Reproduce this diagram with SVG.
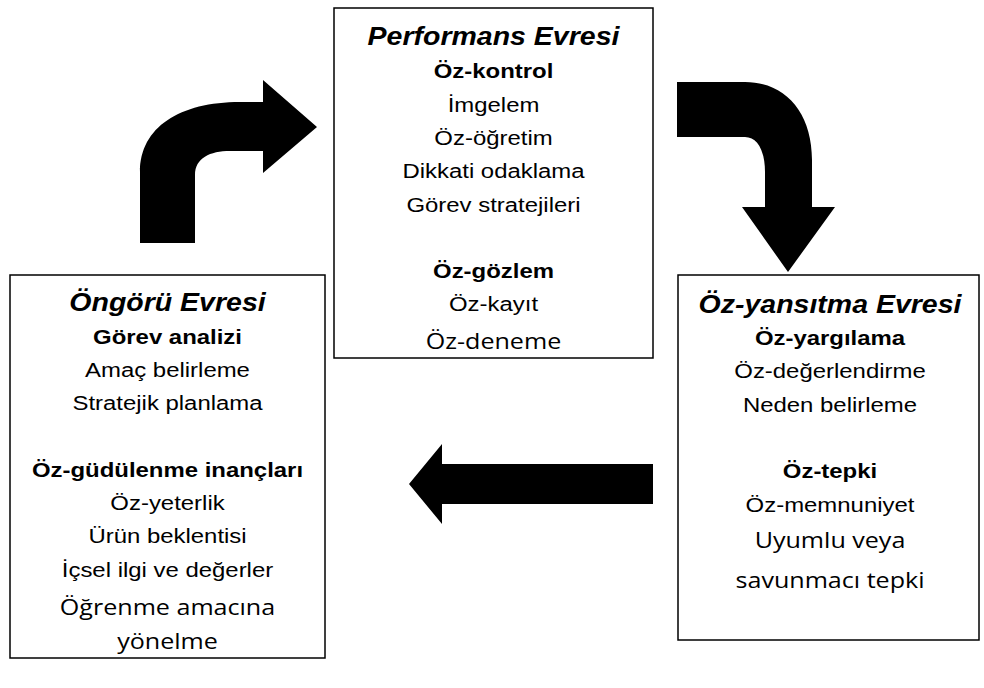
<svg xmlns="http://www.w3.org/2000/svg" width="984" height="688" viewBox="0 0 984 688">
<style>
.box{fill:#fff;stroke:#000;stroke-width:1.5}
.arrow{fill:#000;stroke:none}
text{font-family:"Liberation Sans",Arial,sans-serif;font-size:21px;fill:#000;text-anchor:middle}
.title{font-size:25px;font-weight:bold;font-style:italic}
.head{font-weight:bold}
.cal{font-family:"Open Sans","Noto Sans",sans-serif;font-size:22px}
</style>
<rect width="984" height="688" fill="#fff"/>
<g id="connectors">
<path class="arrow" d="M140,243 L140,172 C140,127 180,102 240,102 L263,102 L263,80 L317,127 L263,173 L263,151 L230,151 C210,151 195,158 195,175 L195,243 Z"/>
<path class="arrow" d="M677,82 L745,82 C785,82 812,112 812,160 L812,207 L835,207 L788,272 L742,207 L765,207 L765,172 C765,150 757,137 745,137 L677,137 Z"/>
<path class="arrow" d="M653,464 L442,464 L442,444 L409,484 L442,524 L442,504 L653,504 Z"/>
</g>
<g id="performans">
<rect class="box" x="334" y="8" width="319" height="350"/>
<g transform="translate(493.5,0) scale(1.14,1)">
<text class="title" x="0" y="45">Performans Evresi</text>
<text class="head" x="0" y="78">Öz-kontrol</text>
<text x="0" y="112">İmgelem</text>
<text x="0" y="145">Öz-öğretim</text>
<text x="0" y="178">Dikkati odaklama</text>
<text x="0" y="212">Görev stratejileri</text>
<text class="head" x="0" y="278">Öz-gözlem</text>
<text x="0" y="311">Öz-kayıt</text>
<text class="cal" x="0" y="349">Öz-deneme</text>
</g>
</g>
<g id="ongoru">
<rect class="box" x="10" y="275" width="315" height="383"/>
<g transform="translate(167.5,0) scale(1.14,1)">
<text class="title" x="0" y="311">Öngörü Evresi</text>
<text class="head" x="0" y="344">Görev analizi</text>
<text x="0" y="377">Amaç belirleme</text>
<text x="0" y="410">Stratejik planlama</text>
<text class="head" x="0" y="477">Öz-güdülenme inançları</text>
<text x="0" y="510">Öz-yeterlik</text>
<text x="0" y="543">Ürün beklentisi</text>
<text x="0" y="577">İçsel ilgi ve değerler</text>
<text class="cal" x="0" y="615">Öğrenme amacına</text>
<text class="cal" x="0" y="649">yönelme</text>
</g>
</g>
<g id="ozyansitma">
<rect class="box" x="678" y="275" width="301" height="365"/>
<g transform="translate(830,0) scale(1.14,1)">
<text class="title" x="0" y="313">Öz-yansıtma Evresi</text>
<text class="head" x="0" y="345">Öz-yargılama</text>
<text x="0" y="378">Öz-değerlendirme</text>
<text x="0" y="412">Neden belirleme</text>
<text class="head" x="0" y="478">Öz-tepki</text>
<text x="0" y="512">Öz-memnuniyet</text>
<text class="cal" x="0" y="548">Uyumlu veya</text>
<text class="cal" x="0" y="588">savunmacı tepki</text>
</g>
</g>
</svg>
